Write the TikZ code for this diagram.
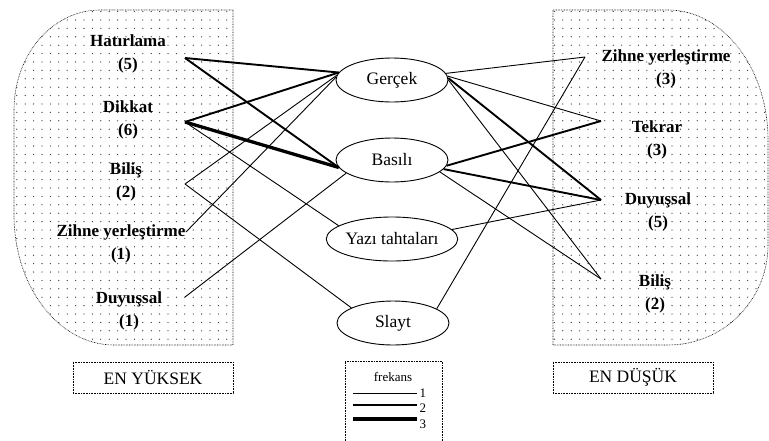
\documentclass[tikz,border=0pt]{standalone}
\usepackage{fontspec}
\setmainfont{Liberation Serif}
\usetikzlibrary{shapes.geometric,patterns.meta}

\tikzset{
    media/.style={draw, ellipse, line width=0.9pt, minimum width=112pt, minimum height=44pt, inner sep=0pt, font=\fontsize{17.5}{20}\selectfont},
    skill/.style={align=center, font=\fontsize{17}{23}\selectfont\bfseries},
    zone/.style={draw, dash pattern=on 0.7pt off 0.9pt, line width=0.6pt, pattern={Dots[distance=8.4pt, radius=0.65pt]}, pattern color=black!80},
    levelbox/.style={draw, dash pattern=on 0.7pt off 0.9pt, line width=0.6pt, font=\fontsize{17.5}{20}\selectfont},
    legendtext/.style={font=\fontsize{13}{15}\selectfont},
    freq1/.style={line width=0.9pt},
    freq2/.style={line width=1.9pt},
    freq3/.style={line width=3.3pt},
}

\begin{document}
\begin{tikzpicture}[x=1pt, y=1pt]
        \useasboundingbox (0,0) rectangle (769,-440);

        % Draw the two dotted areas
        \draw[zone] (233,-10) -- (100,-10) arc[start angle=90, end angle=180, x radius=86, y radius=100]
            -- (14,-215) arc[start angle=180, end angle=270, x radius=100, y radius=130] -- (233,-345) -- cycle;
        \draw[zone] (553,-10) -- (668,-10) arc[start angle=90, end angle=0, x radius=100, y radius=130]
            -- (768,-245) arc[start angle=0, end angle=-90, x radius=100, y radius=100] -- (553,-345) -- cycle;

        % Draw the skills on the left
        \node[skill] (hatirlama) at (128,-54) {Hatırlama\\(5)};
        \node[skill] (dikkat) at (128,-120) {Dikkat\\(6)};
        \node[skill] (bilis) at (126,-182) {Biliş\\(2)};
        \node[skill] (zihne) at (121,-244) {Zihne yerleştirme\\(1)};
        \node[skill] (duyussal) at (129,-311) {Duyuşsal\\(1)};

        \coordinate (hatirlama-e) at (185,-58);
        \coordinate (dikkat-e) at (185,-122);
        \coordinate (bilis-e) at (185,-184);
        \coordinate (zihne-e) at (186,-232);
        \coordinate (duyussal-e) at (185,-297);

        % Draw the skills on the right
        \node[skill] (rzihne) at (666,-69) {Zihne yerleştirme\\(3)};
        \node[skill] (tekrar) at (657,-140) {Tekrar\\(3)};
        \node[skill] (rduyussal) at (658,-212) {Duyuşsal\\(5)};
        \node[skill] (rbilis) at (655,-294) {Biliş\\(2)};

        \coordinate (rzihne-w) at (585,-57);
        \coordinate (tekrar-w) at (601,-121);
        \coordinate (rduyussal-w) at (601,-200);
        \coordinate (rbilis-w) at (601,-279);

        % Draw the media in the middle
        \node[media] (gercek) at (392,-80) {Gerçek};
        \node[media] (basili) at (392,-160) {Basılı};
        \node[media] (yazi) at (392,-239) {Yazı tahtaları};
        \node[media] (slayt) at (393,-323) {Slayt};

        % Draw the lines on the left
        \draw[freq2] (hatirlama-e) -- (gercek.172);
        \draw[freq2] (hatirlama-e) -- (basili.188);
        \draw[freq2] (dikkat-e) -- (gercek.172);
        \draw[freq3] (dikkat-e) -- (basili.188);
        \draw[freq1] (dikkat-e) -- (yazi.166);
        \draw[freq1] (bilis-e) -- (gercek.175);
        \draw[freq1] (bilis-e) -- (slayt.160);
        \draw[freq1] (zihne-e) -- (gercek.177);
        \draw[freq1] (duyussal-e) -- (basili.196);

        % Draw the lines on the right
        \draw[freq1] (gercek.7) -- (rzihne-w);
        \draw[freq1] (gercek.4) -- (tekrar-w);
        \draw[freq2] (gercek.2) -- (rduyussal-w);
        \draw[freq1] (gercek.0) -- (rbilis-w);
        \draw[freq2] (basili.-6) -- (tekrar-w);
        \draw[freq2] (basili.-10) -- (rduyussal-w);
        \draw[freq1] (basili.-14) -- (rbilis-w);
        \draw[freq1] (yazi.9) -- (rduyussal-w);
        \draw[freq1] (slayt.18) -- (rzihne-w);

        % Draw the boxes below
        \node[levelbox, minimum width=160pt, minimum height=31pt] (enyuksek) at (153,-377.5) {EN YÜKSEK};
        \node[levelbox, minimum width=160pt, minimum height=31pt] (endusuk) at (633,-377.5) {EN DÜŞÜK};

        % Draw the legend
        \node[levelbox, minimum width=97pt, minimum height=82pt] (legend) at (393.5,-402) {};
        \node[legendtext] (frekans) at (393,-377) {frekans};
        \node[legendtext, anchor=west] (k1) at (416,-393) {1};
        \node[legendtext, anchor=west] (k2) at (416,-408) {2};
        \node[legendtext, anchor=west] (k3) at (416,-424) {3};
        \draw[freq1] (353,-393) -- (417,-393);
        \draw[freq2] (353,-405) -- (417,-405);
        \draw[freq3] (353,-419) -- (417,-419);
    \end{tikzpicture}
\end{document}
